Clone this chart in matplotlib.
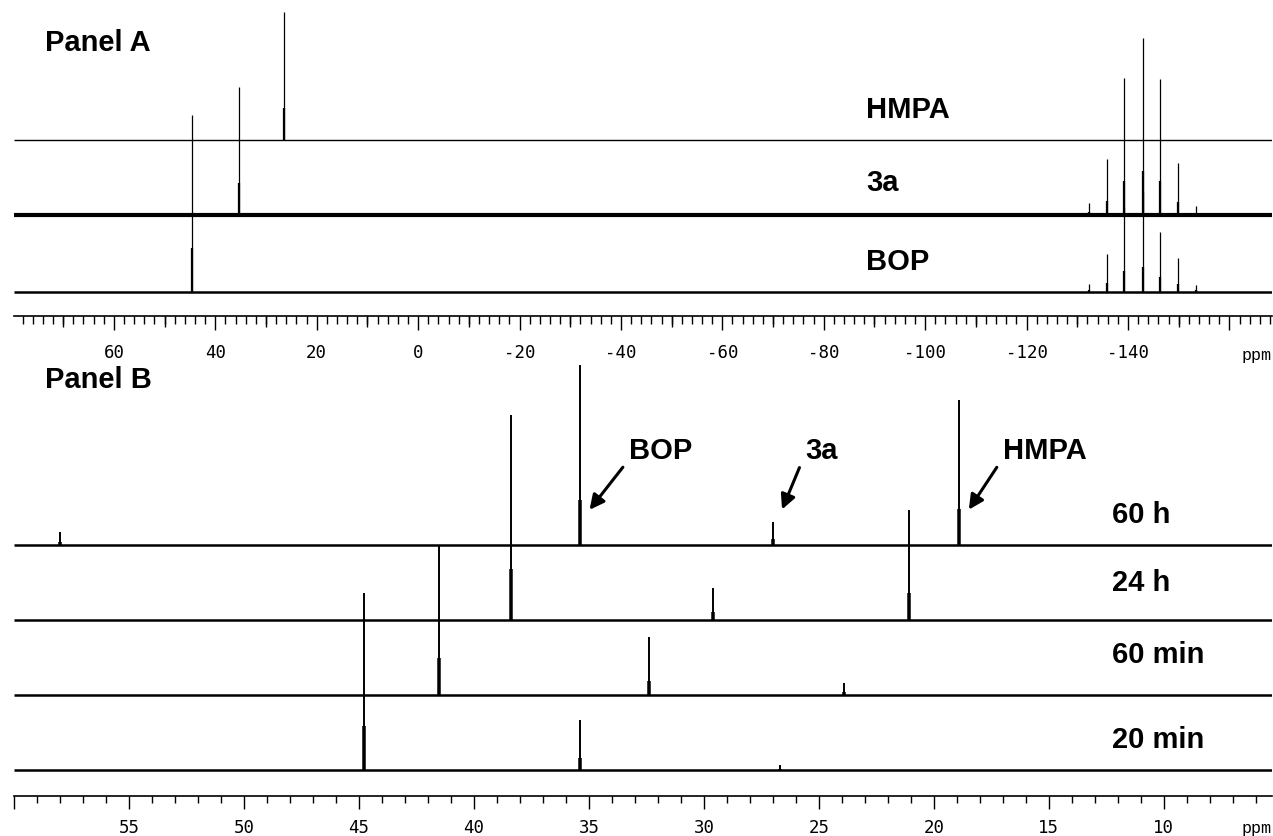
import matplotlib
matplotlib.use("Agg")
import matplotlib.pyplot as plt
from matplotlib.ticker import FixedLocator, MultipleLocator, NullFormatter

# ---------------- data (ppm, relative intensity) ----------------
# Panel A : reference spectra
a_traces = ["HMPA", "3a", "BOP"]
a_hmpa_ppm = [26.5]
a_hmpa_int = [128]
a_3a_ppm = [35.4, -132.3, -135.8, -139.3, -142.9, -146.4, -149.9, -153.4]
a_3a_int = [128, 12, 56, 137, 177, 136, 52, 9]
a_bop_ppm = [44.5, -132.3, -135.8, -139.3, -142.9, -146.4, -149.9, -153.4]
a_bop_int = [177, 8, 38, 85, 100, 60, 34, 7]
a_ticks = [60, 40, 20, 0, -20, -40, -60, -80, -100, -120, -140]
a_ticklabels = ["60", "40", "20", "0", "-20", "-40", "-60", "-80", "-100", "-120", "-140"]

# Panel B : time course
b_traces = ["60 h", "24 h", "60 min", "20 min"]
b_60h_ppm = [58.0, 35.4, 27.0, 18.9]
b_60h_int = [13, 180, 23, 145]
b_24h_ppm = [38.4, 29.6, 21.1]
b_24h_int = [205, 32, 110]
b_60min_ppm = [41.5, 32.4, 23.9]
b_60min_int = [150, 58, 12]
b_20min_ppm = [44.8, 35.4, 26.7]
b_20min_int = [177, 50, 5]
b_ticks = [55, 50, 45, 40, 35, 30, 25, 20, 15, 10]
b_ticklabels = ["55", "50", "45", "40", "35", "30", "25", "20", "15", "10"]
b_arrow_labels = ["BOP", "3a", "HMPA"]

# ---------------- layout ----------------
W, H = 1273, 836
fig = plt.figure(figsize=(W / 100, H / 100), dpi=100)

def fx(px):
    return px / W

def fy(py):
    return 1 - py / H

bold = dict(family="Liberation Sans", weight="bold", size=21)
numfont = dict(family="DejaVu Sans Mono", size=12.5)

def style_axis(ax, xlim, ylim):
    ax.set_xlim(*xlim)
    ax.set_ylim(*ylim)
    for s in ("top", "left", "right"):
        ax.spines[s].set_visible(False)
    ax.spines["bottom"].set_linewidth(1.2)
    ax.patch.set_visible(False)
    ax.set_yticks([])

def draw_trace(ax, base, ppm, inten, lw_base, lw_peak, xlim):
    ax.plot(list(xlim), [base, base], color="black", lw=lw_base, solid_capstyle="butt")
    ax.vlines(ppm, base, [base + i for i in inten], color="black", lw=lw_peak)
    ax.vlines(ppm, base, [base + 0.25 * i for i in inten], color="black", lw=lw_peak * 1.8)

# ---- Panel A ----
axA = fig.add_axes([fx(14), fy(316), fx(1258), (316) / H])
xlimA = (79.7, -168.4)
style_axis(axA, xlimA, (0, 316))
baseA = {"HMPA": 176, "3a": 101, "BOP": 24}
draw_trace(axA, baseA["HMPA"], a_hmpa_ppm, a_hmpa_int, 1.0, 0.9, xlimA)
draw_trace(axA, baseA["3a"], a_3a_ppm, a_3a_int, 3.0, 0.9, xlimA)
draw_trace(axA, baseA["BOP"], a_bop_ppm, a_bop_int, 1.8, 0.9, xlimA)
axA.xaxis.set_major_locator(FixedLocator(list(range(80, -170, -20))))
axA.set_xticklabels([""] + a_ticklabels + [""], **numfont)
axA.xaxis.set_minor_locator(MultipleLocator(2))
axA.tick_params(axis="x", which="major", length=10, width=1.0, pad=10)
axA.tick_params(axis="x", which="minor", length=5.5, width=1.0)
secA = axA.secondary_xaxis("bottom")
secA.xaxis.set_major_locator(FixedLocator(list(range(70, -170, -20))))
secA.xaxis.set_major_formatter(NullFormatter())
secA.tick_params(axis="x", length=8, width=1.0)
secA.spines["bottom"].set_visible(False)

fig.text(fx(45), fy(43), "Panel A", va="center", ha="left", **bold)
fig.text(fx(866), fy(110), "HMPA", va="center", ha="left", **bold)
fig.text(fx(866), fy(183), "3a", va="center", ha="left", **bold)
fig.text(fx(866), fy(262), "BOP", va="center", ha="left", **bold)
fig.text(fx(1272), fy(355), "ppm", va="center", ha="right", family="Liberation Mono", size=12)

# ---- Panel B ----
axB = fig.add_axes([fx(14), fy(796), fx(1258), (796 - 330) / H])
xlimB = (60.0, 5.3)
style_axis(axB, xlimB, (0, 466))
baseB = {"60 h": 251, "24 h": 176, "60 min": 101, "20 min": 26}
draw_trace(axB, baseB["60 h"], b_60h_ppm, b_60h_int, 1.8, 1.4, xlimB)
draw_trace(axB, baseB["24 h"], b_24h_ppm, b_24h_int, 1.8, 1.4, xlimB)
draw_trace(axB, baseB["60 min"], b_60min_ppm, b_60min_int, 1.8, 1.4, xlimB)
draw_trace(axB, baseB["20 min"], b_20min_ppm, b_20min_int, 1.8, 1.4, xlimB)
axB.xaxis.set_major_locator(FixedLocator([60] + b_ticks))
axB.set_xticklabels([""] + b_ticklabels, **numfont)
axB.xaxis.set_minor_locator(MultipleLocator(1))
axB.tick_params(axis="x", which="major", length=9.5, width=1.0, pad=7)
axB.tick_params(axis="x", which="minor", length=5, width=1.0)

fig.text(fx(45), fy(380), "Panel B", va="center", ha="left", **bold)
for name, py in zip(b_traces, [515, 583, 655, 740]):
    fig.text(fx(1112), fy(py), name, va="center", ha="left", **bold)
fig.text(fx(1272), fy(828), "ppm", va="center", ha="right", family="Liberation Mono", size=12)

# arrows pointing at the 60 h peaks (tail offsets in ppm are layout only)
tail_offsets = [1.95, 1.2, 1.7]
for lab, pk, off in zip(b_arrow_labels, b_60h_ppm[1:], tail_offsets):
    y0 = baseB["60 h"]
    axB.annotate("", xy=(pk - 0.35, y0 + 33), xytext=(pk - off, y0 + 80),
                 arrowprops=dict(arrowstyle="-|>", color="black", lw=2.2, mutation_scale=22))
    axB.text(pk - off - 0.2, y0 + 80, lab, va="bottom", ha="left", **bold)

fig.savefig("out.png", dpi=100)
